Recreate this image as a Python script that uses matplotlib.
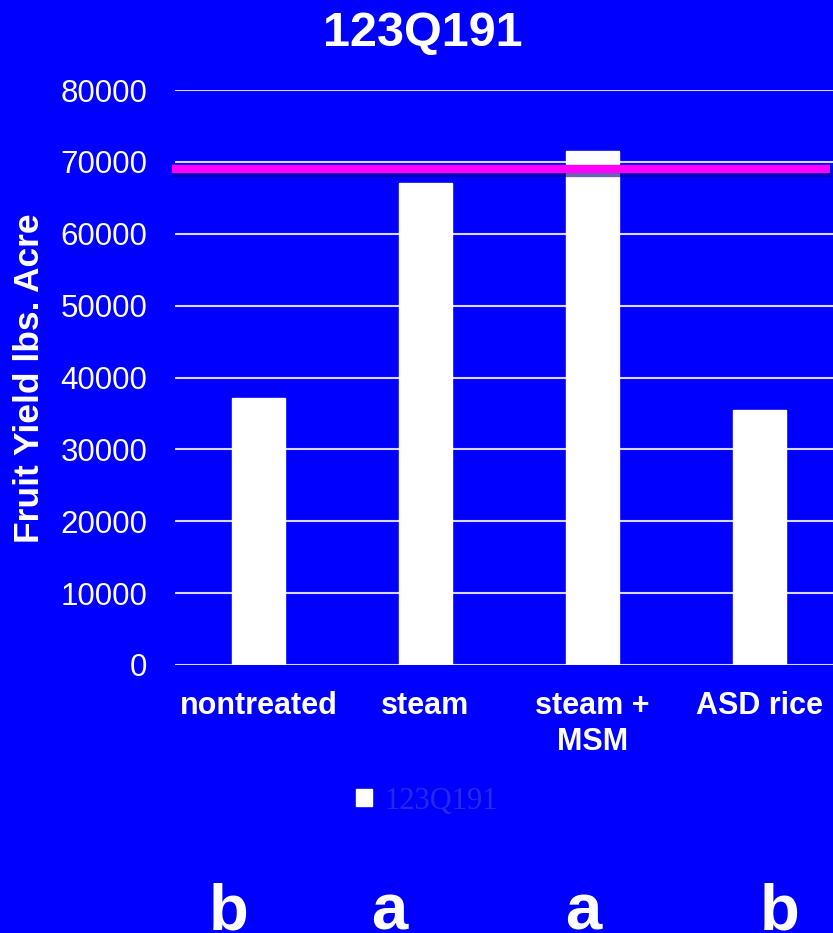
import matplotlib
matplotlib.use("Agg")
import matplotlib.pyplot as plt
import matplotlib.patheffects as pe
from matplotlib.patches import Patch

plt.rcParams['font.family'] = ['Liberation Sans', 'DejaVu Sans']

# data
treatments = ['nontreated', 'steam', 'steam +\nMSM', 'ASD rice']
fruit_yield = [37200, 67000, 71500, 35500]
letters = ['b', 'a', 'a', 'b']
ref_level = 69000
ref_span = [-0.52, 3.42]
series_name = '123Q191'
yticks = [0, 10000, 20000, 30000, 40000, 50000, 60000, 70000, 80000]

blue = '#0000ff'

fig = plt.figure(figsize=(8.33, 9.33), dpi=100, facecolor=blue)
ax = fig.add_axes([175/833, 1 - 665/933, 668/833, 575/933], facecolor=blue)

x = list(range(len(treatments)))
ax.bar(x, fruit_yield, width=0.32, color='white', edgecolor='white',
       label=series_name, zorder=3)

ax.set_xlim(-0.5, 3.5)
ax.set_ylim(0, 80000)
ax.set_yticks(yticks)
ax.set_yticklabels([str(t) for t in yticks])
ax.grid(axis='y', color='#d8d8ff', linewidth=1.5, zorder=1)
ax.set_axisbelow(True)
for s in ax.spines.values():
    s.set_visible(False)

ax.tick_params(axis='y', length=0, pad=20, labelsize=22.5, labelcolor='white')
ax.set_xticks(x)
ax.set_xticklabels(treatments, fontsize=22, fontweight='bold', color='white',
                   linespacing=1.25)
ax.tick_params(axis='x', length=0, pad=19)

# magenta reference line
ax.plot(ref_span, [ref_level, ref_level], color='#ff00ff', linewidth=6,
        solid_capstyle='butt', clip_on=False, zorder=5,
        path_effects=[pe.SimpleLineShadow(offset=(1, -3), shadow_color='#000080', alpha=0.6),
                      pe.Normal()])

fig.text(423/833, 1 - 46/933, series_name, ha='center', va='baseline',
         fontsize=35, fontweight='bold', color='white')
fig.text(30/833, 1 - 378/933, 'Fruit Yield lbs. Acre', rotation=90,
         ha='center', va='center', fontsize=25.5, fontweight='bold', color='white')

leg = fig.legend(handles=[Patch(facecolor='white', edgecolor='white', label=series_name)],
                 loc='center', bbox_to_anchor=(427/833, 1 - 801/933), frameon=False,
                 handlelength=0.5, handleheight=0.5, handletextpad=0.4,
                 prop={'family': 'Liberation Serif', 'size': 22})
for t in leg.get_texts():
    t.set_color('#2828e8')

letter_x = [229, 389, 583, 780]
for lx, letter in zip(letter_x, letters):
    fig.text(lx/833, 1 - 929/933, letter, ha='center', va='baseline',
             fontsize=47, fontweight='bold', color='white')

fig.savefig('out.png', dpi=100, facecolor=blue)
